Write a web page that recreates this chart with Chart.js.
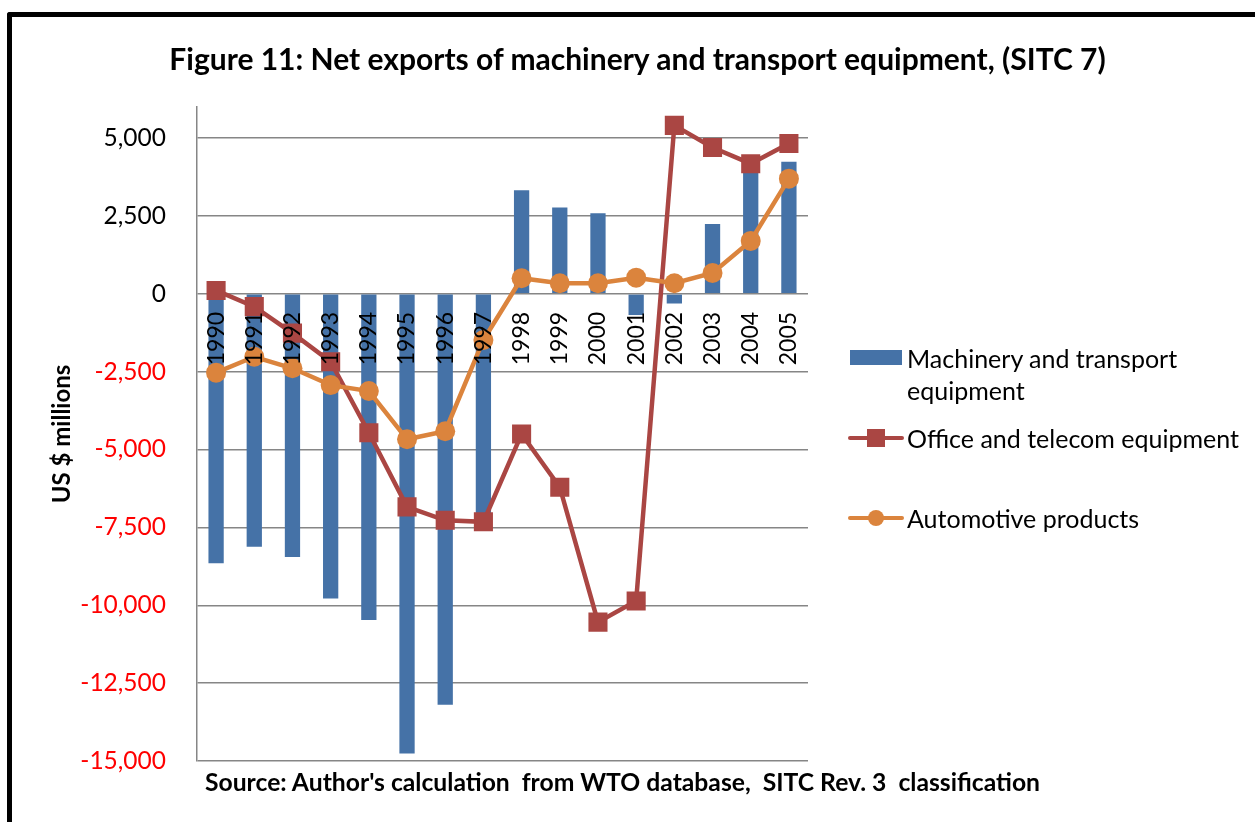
<!DOCTYPE html>
<html>
<head>
<meta charset="utf-8">
<script src="https://cdn.jsdelivr.net/npm/chart.js@4"></script>
<style>
  body { margin: 0; background: #fff; width: 1255px; height: 822px; overflow: hidden; position: relative; font-family: Lato, sans-serif; }
  #frame { position: absolute; left: 7px; top: 12px; width: 1400px; height: 900px; border-top: 5px solid #000; border-left: 5px solid #000; border-top-left-radius: 3px; }
  #chart { position: absolute; left: 0; top: 0; }
  #title { position: absolute; left: 0; width: 1275px; top: 39px; text-align: center; font-weight: bold; font-size: 30px; line-height: 38px; }
  #source { position: absolute; left: 205px; top: 765px; font-weight: bold; font-size: 24.7px; line-height: 34px; white-space: pre; }
  .leg { position: absolute; font-size: 25px; line-height: 32px; white-space: nowrap; }
  .mark { position: absolute; }
</style>
</head>
<body>
<div id="frame"></div>
<canvas id="chart" width="1255" height="822"></canvas>
<div id="title">Figure 11: Net exports of machinery and transport equipment, (SITC 7)</div>
<div id="source">Source: Author's calculation  from WTO database,  SITC Rev. 3  classification</div>
<div id="legend"></div>
<script>
// data (US $ millions)
const years = ['1990','1991','1992','1993','1994','1995','1996','1997','1998','1999','2000','2001','2002','2003','2004','2005'];
const machinery = [-8650, -8120, -8450, -9780, -10470, -14760, -13190, -7250, 3330, 2770, 2590, -680, -310, 2240, 4150, 4240];
const office = [110, -410, -1260, -2180, -4460, -6840, -7270, -7320, -4500, -6210, -10540, -9860, 5410, 4700, 4180, 4830];
const automotive = [-2530, -2020, -2390, -2930, -3120, -4670, -4410, -1480, 500, 340, 340, 520, 340, 670, 1700, 3700];
const seriesNames = ['Machinery and transport equipment', 'Office and telecom equipment', 'Automotive products'];
const yTicks = [-15000, -12500, -10000, -7500, -5000, -2500, 0, 2500, 5000];
const yMin = -15000, yMax = 6000;

const blue = '#4572A7', red = '#AA4643', orange = '#DB843D';
const gridCol = '#868686';

new Chart(document.getElementById('chart'), {
  type: 'bar',
  data: {
    labels: years,
    datasets: [
      { type: 'line', label: seriesNames[2], data: automotive, order: 1,
        borderColor: orange, backgroundColor: orange, borderWidth: 4.5,
        pointStyle: 'circle', pointRadius: 10, pointBorderWidth: 0, tension: 0 },
      { type: 'line', label: seriesNames[1], data: office, order: 2,
        borderColor: red, backgroundColor: red, borderWidth: 4.5,
        pointStyle: 'rect', pointRadius: 13.5, pointBorderWidth: 0, tension: 0 },
      { type: 'bar', label: seriesNames[0], data: machinery, order: 3,
        backgroundColor: blue, barPercentage: 0.4, categoryPercentage: 1 }
    ]
  },
  options: {
    responsive: false,
    animation: false,
    devicePixelRatio: 1,
    layout: { padding: { top: 107, bottom: 61, left: 0, right: 447 } },
    plugins: { legend: { display: false }, tooltip: { enabled: false }, title: { display: false } },
    scales: {
      x: {
        position: { y: 0 },
        grid: { display: false, drawTicks: false },
        border: { display: false },
        ticks: { z: 1, minRotation: 90, maxRotation: 90, autoSkip: false, padding: 18, color: '#000',
                 font: { family: 'Lato', size: 23 } }
      },
      y: {
        min: yMin, max: yMax,
        afterBuildTicks: function(scale){
          scale.ticks = yTicks.map(v => ({ value: v }));
        },
        afterFit: function(scale){ scale.width = 197; },
        grid: { color: gridCol, lineWidth: 1.5, drawTicks: false },
        border: { display: true, color: gridCol, width: 1.5 },
        ticks: {
          padding: 31,
          font: { family: 'Lato', size: 24.5 },
          color: (ctx) => (ctx.tick && ctx.tick.value < 0) ? '#ff0000' : '#000',
          callback: (v) => v.toLocaleString('en-US')
        },
        title: { display: true, text: 'US $ millions', color: '#000',
                 font: { family: 'Lato', size: 24, weight: 'bold' }, padding: { top: 48 } }
      }
    }
  }
});

// legend on the right
const legend = document.getElementById('legend');
legend.innerHTML =
  '<div class="mark" style="left:850px;top:350px;width:52px;height:15px;background:' + blue + '"></div>' +
  '<div class="leg" style="left:907px;top:342px">Machinery and transport<br>equipment</div>' +
  '<div class="mark" style="left:848px;top:436px;width:56px;height:4px;border-radius:2px;background:' + red + '"></div>' +
  '<div class="mark" style="left:867px;top:429px;width:18px;height:18px;background:' + red + '"></div>' +
  '<div class="leg" style="left:907px;top:422px">' + seriesNames[1] + '</div>' +
  '<div class="mark" style="left:848px;top:516px;width:56px;height:4px;border-radius:2px;background:' + orange + '"></div>' +
  '<div class="mark" style="left:868px;top:510px;width:16px;height:16px;border-radius:8px;background:' + orange + '"></div>' +
  '<div class="leg" style="left:907px;top:502px">' + seriesNames[2] + '</div>';
</script>
</body>
</html>
